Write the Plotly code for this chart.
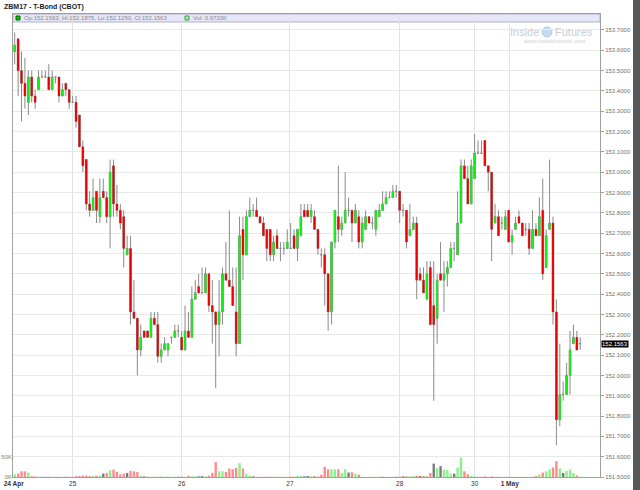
import plotly.graph_objects as go

# ---- data (T-Bond ZBM17, intraday bars) ----
opens = [
 153.5938,153.6563,153.5,153.4375,153.3438,153.4688,153.375,153.4063,153.4688,153.4688,
 153.4688,153.4063,153.4688,153.4688,153.375,153.4375,153.4063,153.3438,153.3438,153.2813,
 153.125,153.0625,152.8438,152.8125,152.9063,152.7813,152.9063,152.875,152.7813,153.0313,
 152.8438,152.8125,152.7813,152.5938,152.625,152.3125,152.2813,152.125,152.2188,152.2188,
 152.1875,152.2813,152.25,152.0938,152.125,152.125,152.1875,152.1875,152.2188,152.1875,
 152.125,152.2188,152.1875,152.375,152.4375,152.4063,152.4063,152.5,152.3438,152.3125,
 152.25,152.3125,152.5,152.4688,152.4375,152.3125,152.1563,152.7188,152.5938,152.7813,
 152.8125,152.8125,152.7813,152.75,152.7188,152.7188,152.5938,152.6875,152.625,152.625,
 152.625,152.625,152.6875,152.625,152.6875,152.8125,152.8125,152.7813,152.7813,152.7188,
 152.5938,152.5938,152.5,152.3125,152.6563,152.7813,152.7188,152.75,152.8125,152.8125,
 152.75,152.7813,152.6563,152.7188,152.7813,152.75,152.7188,152.7813,152.8125,152.8438,
 152.875,152.875,152.9063,152.9063,152.8125,152.8125,152.6875,152.7188,152.75,152.5,
 152.4688,152.375,152.5313,152.3438,152.2813,152.5,152.4688,152.5,152.5313,152.625,
 152.5938,152.75,153.0313,152.9688,152.8438,152.9688,153.0938,153.0938,153.1563,153.0313,
 153.0,152.75,152.7813,152.75,152.7188,152.8125,152.6563,152.7188,152.7813,152.75,
 152.7188,152.7188,152.625,152.7188,152.6875,152.8125,152.5313,152.7188,152.75,152.3125,
 151.7813,151.9063,151.9063,152.0,152.1563,152.1875,152.1563]
highs = [
 153.6875,153.6563,153.5938,153.5625,153.5,153.5,153.4063,153.5,153.5,153.5,
 153.5313,153.5,153.4688,153.4688,153.4375,153.4375,153.4063,153.375,153.375,153.2813,
 153.1563,153.0625,152.9063,152.9688,152.9063,152.9688,152.9688,152.9063,153.0625,153.0625,
 152.9375,152.8438,152.8125,152.6875,152.6875,152.4688,152.2813,152.25,152.2188,152.2188,
 152.3125,152.3125,152.3125,152.1563,152.1875,152.1563,152.1875,152.25,152.25,152.2188,
 152.3438,152.3125,152.4375,152.4688,152.5,152.5313,152.5313,152.5,152.4688,152.3125,
 152.4688,152.5313,152.6563,152.8125,152.5313,152.5313,152.7813,152.7813,152.8125,152.875,
 152.8438,152.875,152.7813,152.7813,152.7188,152.7188,152.6875,152.7188,152.6563,152.6563,
 152.7188,152.75,152.7188,152.7188,152.8438,152.8438,152.8438,152.8438,152.8125,152.7188,
 152.625,152.625,152.5,152.6563,152.8125,153.0313,152.7813,153.0,152.875,152.8125,
 152.8438,152.8125,152.7813,152.8125,152.7813,152.7813,152.8125,152.8438,152.9063,152.9063,
 152.9063,152.9375,152.9375,152.9063,152.8438,152.8125,152.8438,152.7813,152.7813,152.5313,
 152.5313,152.5625,152.5625,152.5625,152.5,152.6563,152.5625,152.5625,152.6563,152.6563,
 152.9063,153.0625,153.0625,153.0313,153.0625,153.1875,153.1563,153.1563,153.1563,153.0313,
 153.0,152.8438,152.8125,152.7813,152.8125,152.8125,152.7188,152.7813,152.8125,152.75,
 152.75,152.75,152.8125,152.75,152.875,152.9688,152.7188,153.0625,152.7813,152.375,
 152.1563,151.9688,152.0625,152.2188,152.25,152.2188,152.1875]
lows = [
 153.5313,153.375,153.25,153.3125,153.2813,153.3438,153.3125,153.4063,153.4688,153.4688,
 153.4063,153.4063,153.4375,153.3438,153.375,153.375,153.3125,153.3438,153.2188,153.125,
 153.0,152.8125,152.7813,152.8125,152.75,152.75,152.875,152.75,152.625,152.7813,
 152.7813,152.7188,152.5313,152.5938,152.25,152.2813,152.0,152.0938,152.1875,152.1875,
 152.1875,152.25,152.0625,152.0625,152.125,152.0938,152.1563,152.1875,152.1875,152.125,
 152.125,152.1875,152.1875,152.375,152.4063,152.4063,152.4063,152.3125,152.1563,151.9375,
 152.0938,152.25,152.4688,152.4375,152.3438,152.0938,152.1563,152.4688,152.5938,152.7813,
 152.7813,152.7813,152.75,152.6875,152.5625,152.5625,152.5625,152.625,152.5625,152.5938,
 152.625,152.625,152.625,152.5625,152.6875,152.7813,152.7813,152.75,152.7188,152.5938,
 152.5313,152.3438,152.2188,152.25,152.625,152.6563,152.6875,152.75,152.7813,152.6563,
 152.75,152.625,152.625,152.7188,152.75,152.7188,152.6875,152.7813,152.8125,152.8438,
 152.875,152.875,152.875,152.75,152.7813,152.625,152.6875,152.7188,152.375,152.4688,
 152.4063,152.375,152.25,151.875,152.1563,152.4688,152.3125,152.4375,152.5313,152.5625,
 152.5938,152.75,152.9688,152.8438,152.8438,152.9688,153.0938,153.0938,153.0313,152.9063,
 152.5625,152.75,152.6875,152.7188,152.7188,152.6563,152.5938,152.7188,152.75,152.6875,
 152.6875,152.5938,152.625,152.6875,152.6875,152.4688,152.5313,152.7188,152.25,151.6563,
 151.75,151.875,151.9063,151.9063,152.1563,152.125,152.125]
closes = [
 153.625,153.5,153.4375,153.375,153.4688,153.375,153.3438,153.4688,153.4688,153.4688,
 153.4063,153.4688,153.4688,153.375,153.4063,153.4063,153.3438,153.3438,153.25,153.125,
 153.0313,152.8438,152.8125,152.875,152.8125,152.875,152.875,152.7813,153.0,152.8438,
 152.8125,152.75,152.625,152.625,152.3125,152.2813,152.125,152.1875,152.1875,152.1875,
 152.2813,152.25,152.0938,152.125,152.1563,152.1563,152.1875,152.2188,152.2188,152.125,
 152.2188,152.1875,152.375,152.4063,152.4063,152.4063,152.5,152.3438,152.3125,152.25,
 152.3125,152.5,152.4688,152.4375,152.3438,152.1563,152.6875,152.5938,152.7813,152.8125,
 152.8125,152.7813,152.75,152.6875,152.625,152.5938,152.6563,152.625,152.625,152.625,
 152.6563,152.625,152.625,152.7188,152.7813,152.7813,152.7813,152.8125,152.7188,152.625,
 152.5938,152.5,152.3125,152.6563,152.8125,152.7188,152.75,152.8125,152.8125,152.75,
 152.8125,152.6563,152.75,152.7813,152.75,152.75,152.8125,152.8125,152.8438,152.875,
 152.875,152.9063,152.9063,152.8125,152.8125,152.6563,152.7188,152.75,152.4688,152.4688,
 152.4063,152.5,152.25,152.25,152.4688,152.4688,152.5,152.5313,152.625,152.625,
 152.75,153.0313,152.9688,152.8438,153.0313,153.0938,153.0938,153.0938,153.0313,153.0,
 152.7188,152.7813,152.6875,152.75,152.7813,152.6563,152.6875,152.75,152.75,152.6875,
 152.7188,152.625,152.7188,152.6875,152.7813,152.5,152.6875,152.75,152.3125,151.7813,
 151.9063,151.9063,152.0,152.125,152.1875,152.125,152.1563]
volumes_k = [
 6.7,8.3,14,14,11,2,1.5,0.8,0.4,0.4,
 0.8,0.5,0.3,0.8,0.4,0.8,0.5,0.4,2,2.5,
 3.3,3.3,2.5,2.5,3.3,3.3,8.3,10,16.7,18.3,
 12.5,6.7,8.3,10,15,14,12.5,3.3,1.7,0.5,
 0.6,0.8,0.5,1.7,1,0.6,0.4,0.5,0.8,0.6,
 0.5,3.3,1.7,1.7,1.7,2.5,1.7,3.3,10,36.7,
 14,14,12.5,20.8,19,22.5,34,20.8,8.3,3.3,
 1.7,0.5,0.4,0.5,0.8,0.8,0.4,0.8,0.3,0.3,
 0.5,1,0.5,2.5,2.5,1.7,2.5,1.7,2.5,1,
 5.8,25,19,19,19,19,10,19,11,11.7,
 8.3,5.8,0.8,0.3,0.3,0.4,0.5,0.3,1.7,0.4,
 0.3,0.5,0.8,0.8,1.7,1.7,1.7,2.5,3.3,2.5,
 2.5,3.3,10,33,22.5,26.7,18.3,16.7,8.3,8.3,
 23.3,48,14,6.7,2.5,1.7,0.5,0.4,1.7,0.5,
 1.7,0.4,0.8,0.3,0.4,0.8,0.3,0.4,0.3,0.4,
 0.3,0.4,0.8,2.5,5.8,11,14,19,23.3,39,
 20.8,10,15,18.3,10,4,0.973]
bar_index = list(range(len(closes)))
day_tick_pos = [-0.3, 17, 49, 80.8, 113, 135, 145.3]
day_tick_labels = ['<b>24 Apr</b>', '25', '26', '27', '28', '30', '<b>1 May</b>']
vol_tick_vals = [0, 50]
vol_tick_labels = ['0K', '50K']

# ---- styling ----
FONT = 'Arial, Liberation Sans, sans-serif'
W, H = 640, 490
ML, MR, MT, MB = 13, 40, 14, 13
PW, PH = W - ML - MR, H - MT - MB
PRICE_RANGE = [151.5, 153.7787]


def px(xp):
    return (xp - ML) / PW


def py(yp):
    return (H - MB - yp) / PH


vol_colors = []
for i, c in enumerate(closes):
    prev = closes[i - 1] if i > 0 else opens[0]
    if c > prev:
        vol_colors.append('#8cf08c')
    elif c < prev:
        vol_colors.append('#ff8c8c')
    else:
        vol_colors.append('#7a7a7a')

body_base = [min(o, c) for o, c in zip(opens, closes)]
body_len = [abs(c - o) for o, c in zip(opens, closes)]
body_colors = ['#12f012' if c > o else '#f00000' for o, c in zip(opens, closes)]

fig = go.Figure()
fig.add_trace(go.Candlestick(
    x=bar_index, open=opens, high=highs, low=lows, close=closes,
    increasing=dict(fillcolor='#00e000', line=dict(color='#8a8a8a', width=1)),
    decreasing=dict(fillcolor='#e00000', line=dict(color='#8a8a8a', width=1)),
    whiskerwidth=0, hoverinfo='skip'))
fig.add_trace(go.Bar(
    x=bar_index, y=volumes_k, yaxis='y2', width=0.7,
    marker=dict(color=vol_colors, line=dict(width=0)), hoverinfo='skip'))
fig.add_trace(go.Bar(
    x=bar_index, y=body_len, base=body_base, yaxis='y3', width=0.55,
    marker=dict(color=body_colors, line=dict(width=0)), hoverinfo='skip'))

shapes = [
    # legend band
    dict(type='rect', xref='paper', yref='paper', x0=0, x1=1, y0=py(22), y1=1,
         fillcolor='#e6e6fa', line=dict(color='#b0b0c0', width=1), layer='below'),
    # legend swatches
    dict(type='rect', xref='paper', yref='paper', x0=px(16), x1=px(20), y0=py(20), y1=py(16),
         fillcolor='#00cc00', line=dict(color='#006600', width=1)),
    dict(type='rect', xref='paper', yref='paper', x0=px(185), x1=px(189), y0=py(20), y1=py(16),
         fillcolor='#a0f0a0', line=dict(color='#40a040', width=1)),
    # watermark logo
    dict(type='circle', xref='paper', yref='paper', x0=px(542), x1=px(552), y0=py(37), y1=py(27),
         fillcolor='#c4daf0', line=dict(color='#b0cce8', width=1), layer='below'),
    # dark right edge
    dict(type='rect', xref='paper', yref='paper', x0=px(633), x1=px(645), y0=-0.1, y1=1.1,
         fillcolor='#585858', line=dict(width=0)),
]

annotations = [
    dict(text='<b>ZBM17 - T-Bond (CBOT)</b>', xref='paper', yref='paper', x=px(2), y=py(7),
         xanchor='left', yanchor='middle', showarrow=False,
         font=dict(family=FONT, size=7, color='#222222')),
    dict(text='Op:%.4f, Hi:%.4f, Lo:%.4f, Cl:%.4f' % (opens[-1], highs[-1], lows[-1], closes[-1]),
         xref='paper', yref='paper', x=px(22), y=py(18), xanchor='left', yanchor='middle',
         showarrow=False, font=dict(family=FONT, size=6, color='#8a8a8a')),
    dict(text='Vol: %.4fK' % volumes_k[-1], xref='paper', yref='paper', x=px(191), y=py(18),
         xanchor='left', yanchor='middle', showarrow=False,
         font=dict(family=FONT, size=6, color='#8a8a8a')),
    dict(text='Inside', xref='paper', yref='paper', x=px(541), y=py(32), xanchor='right',
         yanchor='middle', showarrow=False, font=dict(family=FONT, size=11, color='#cdcdcd')),
    dict(text='Futures', xref='paper', yref='paper', x=px(553), y=py(32), xanchor='left',
         yanchor='middle', showarrow=False, font=dict(family=FONT, size=11, color='#cdcdcd')),
    dict(text='www.insidefutures.com', xref='paper', yref='paper', x=px(554), y=py(41.5),
         xanchor='center', yanchor='middle', showarrow=False,
         font=dict(family=FONT, size=6, color='#cfcfcf')),
    dict(text='%.4f' % closes[-1], xref='paper', yref='y', x=1, y=closes[-1], xanchor='left',
         yanchor='middle', xshift=1, showarrow=False, bgcolor='#000000', borderpad=0,
         font=dict(family=FONT, size=6, color='#ffffff')),
]

fig.update_layout(
    width=W, height=H,
    margin=dict(l=ML, r=MR, t=MT, b=MB, autoexpand=False),
    paper_bgcolor='white', plot_bgcolor='white', showlegend=False,
    font=dict(family=FONT, size=6, color='#707070'),
    bargap=0.3, barmode='overlay',
    xaxis=dict(range=[-0.5, 171.8], tickmode='array', tickvals=day_tick_pos,
               ticktext=day_tick_labels, showgrid=True, gridcolor='#e2e2e2', gridwidth=1,
               showline=True, linecolor='#a0a0a0', linewidth=1, mirror=True, ticks='',
               zeroline=False, rangeslider=dict(visible=False), automargin=False,
               tickfont=dict(family=FONT, size=6.5, color='#333333')),
    yaxis=dict(side='right', range=PRICE_RANGE, tick0=151.5, dtick=0.1,
               tickformat='.4f', showgrid=True, gridcolor='#e8e8e8', gridwidth=1,
               showline=True, linecolor='#a0a0a0', linewidth=1, mirror=True,
               ticks='outside', ticklen=3, tickcolor='#a0a0a0', zeroline=False,
               automargin=False, tickfont=dict(family=FONT, size=6, color='#707070')),
    yaxis2=dict(overlaying='y', side='left', range=[0, 1138.8], tickmode='array',
                tickvals=vol_tick_vals, ticktext=vol_tick_labels, showgrid=False,
                zeroline=False, showline=False, ticks='', automargin=False,
                tickfont=dict(family=FONT, size=6, color='#808080')),
    yaxis3=dict(overlaying='y', range=PRICE_RANGE, visible=False, showgrid=False,
                zeroline=False),
    shapes=shapes, annotations=annotations,
)

fig.write_html(
    'out.html',
    config={'displayModeBar': False, 'staticPlot': True},
    post_script="document.body.style.margin='0';document.body.style.overflow='hidden';")
